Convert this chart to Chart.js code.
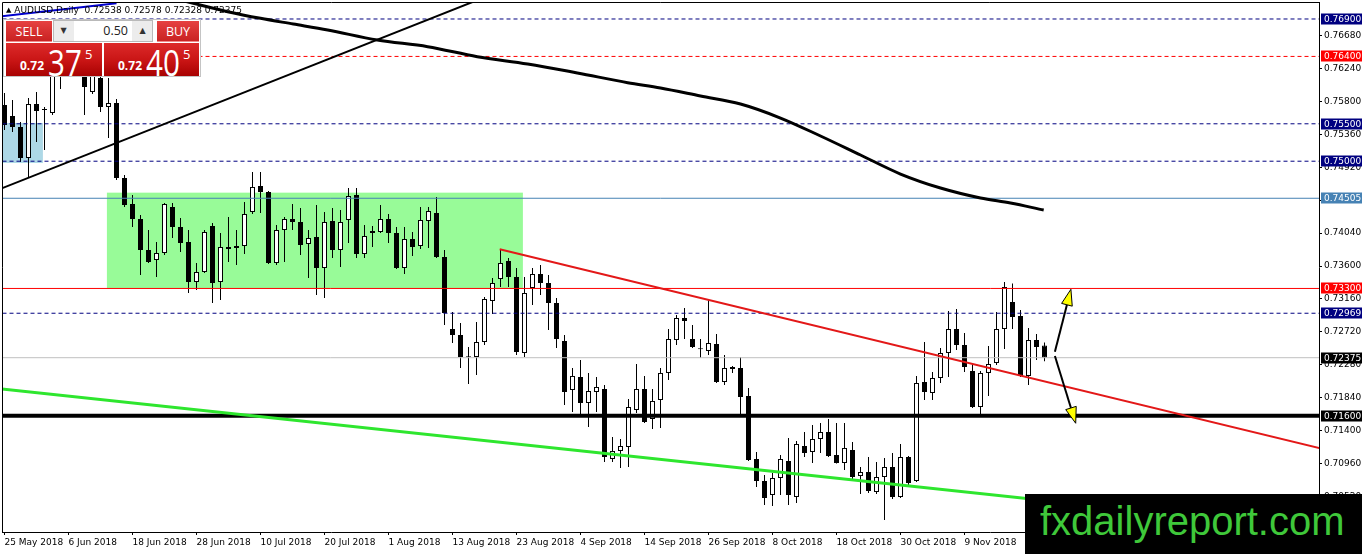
<!DOCTYPE html>
<html>
<head>
<meta charset="utf-8">
<script src="https://cdn.jsdelivr.net/npm/chart.js@4.4.1/dist/chart.umd.min.js"></script>
<style>
html, body { margin: 0; padding: 0; background: #fff; }
#wrap { position: relative; width: 1362px; height: 554px; overflow: hidden; }
#wrap canvas { position: absolute; left: 0; top: 0; }
.abs { position: absolute; }
#hdr { left: 6px; top: 5px; font: 9px 'DejaVu Sans'; line-height: 11px; color: #000; white-space: pre; }
#hdr .tri { font-size: 7px; vertical-align: 1px; }
#panel { left: 3px; top: 19px; width: 196px; height: 56px; border: 1px solid #c4c4c4; background: #fff; }
.btn { top: 21px; height: 21px; color: #fff; font: 12.5px 'Open Sans'; line-height: 21px; text-align: center;
  background: linear-gradient(#e64141, #c92222); border-bottom: 1px solid #f08a8a; box-sizing: border-box; }
#lots { left: 53px; top: 20px; width: 100px; height: 22px; background: #ececec; border: 1px solid #b9b9b9; box-sizing: border-box; }
#lots .arr { position: absolute; top: 0; width: 19px; height: 20px; font: 8px 'DejaVu Sans'; line-height: 20px; text-align: center; color: #333; }
#lots .val { position: absolute; left: 20px; top: 0; width: 58px; height: 20px; background: #fff; font: 12.5px 'Open Sans';
  line-height: 20px; text-align: right; padding-right: 4px; box-sizing: border-box; color: #222; }
.pr { top: 43px; height: 33px; color: #fff; overflow: hidden;
  background: linear-gradient(#dd2a2a 0%, #c81414 55%, #a80202 100%); }
.pr span { position: absolute; line-height: 1; white-space: nowrap; }
.pr .s { left: 14px; top: 14px; font: bold 12px 'Open Sans'; }
.pr .b { left: 42px; top: -7px; font: 37px 'Open Sans'; transform: scaleX(0.8); transform-origin: 0 0; }
.pr .u { left: 79px; top: 2px; font: 13px 'Open Sans'; }
#logo { left: 1025px; top: 494px; width: 337px; height: 60px; background: #000; }
#logo span { position: absolute; left: 15px; top: 7px; font: 40px 'Liberation Sans'; line-height: 1; color: #3fc83a; white-space: nowrap; }
</style>
</head>
<body>
<div id="wrap">
  <canvas id="chart" width="1362" height="554"></canvas>
  <div id="hdr" class="abs"><span class="tri">▲</span> AUDUSD,Daily  0.72538 0.72578 0.72328 0.72375</div>
  <div id="panel" class="abs"></div>
  <div class="abs btn" style="left:6px;width:46px;">SELL</div>
  <div id="lots" class="abs"><span class="arr" style="left:0">▼</span><span class="val">0.50</span><span class="arr" style="left:79px">▲</span></div>
  <div class="abs btn" style="left:157px;width:42px;">BUY</div>
  <div class="abs pr" style="left:6px;width:96px;"><span class="s">0.72</span><span class="b">37</span><span class="u">5</span></div>
  <div class="abs pr" style="left:104px;width:95px;"><span class="s">0.72</span><span class="b">40</span><span class="u">5</span></div>
  <div id="logo" class="abs"><span>fxdailyreport.com</span></div>
</div>
<script>
// daily candles, bar 0 = 25 May 2018
var candleOpen = [
  0.75751, 0.75604, 0.75457, 0.75043, 0.75764, 0.75684, 0.75644, 0.76219, 0.76459, 0.76513,
  0.76219, 0.75925, 0.76112, 0.75724, 0.75778, 0.74776, 0.74428, 0.74228, 0.73814, 0.73680,
  0.73774, 0.74388, 0.74121, 0.73921, 0.73386, 0.73520, 0.74135, 0.73386, 0.73854, 0.73841,
  0.73867, 0.74322, 0.74669, 0.74589, 0.73640, 0.74081, 0.74228, 0.74188, 0.73894, 0.73988,
  0.73573, 0.74201, 0.73814, 0.74215, 0.74549, 0.73760, 0.74068, 0.74054, 0.74228, 0.74041,
  0.73573, 0.73961, 0.73867, 0.74201, 0.74308, 0.73720, 0.72758, 0.72678, 0.72384, 0.72384,
  0.72585, 0.73133, 0.73426, 0.73667, 0.73453, 0.72438, 0.73306, 0.73493, 0.73373, 0.73106,
  0.72598, 0.71943, 0.72117, 0.71770, 0.71917, 0.71957, 0.71022, 0.71129, 0.71182, 0.71676,
  0.71957, 0.71556, 0.71810, 0.72171, 0.72611, 0.72905, 0.72625, 0.72491, 0.72465, 0.72558,
  0.72050, 0.72251, 0.72237, 0.71863, 0.71022, 0.70728, 0.70541, 0.70768, 0.70995, 0.70514,
  0.71195, 0.71115, 0.71289, 0.71382, 0.71075, 0.70968, 0.71142, 0.70794, 0.70848, 0.70581,
  0.70781, 0.70915, 0.70514, 0.71048, 0.70728, 0.72050, 0.71903, 0.72104, 0.72438, 0.72758,
  0.72545, 0.72197, 0.71716, 0.72171, 0.72304, 0.72758, 0.73119, 0.72932, 0.72131, 0.72611,
  0.72538
];
var candleHigh = [
  0.75911, 0.75818, 0.75524, 0.75845, 0.75925, 0.75724, 0.76419, 0.76593, 0.76686, 0.76619,
  0.76326, 0.76245, 0.76192, 0.76112, 0.75831, 0.74816, 0.74549, 0.74281, 0.74081, 0.73921,
  0.74442, 0.74442, 0.74241, 0.74081, 0.73640, 0.74081, 0.74175, 0.74041, 0.74255, 0.74081,
  0.74455, 0.74856, 0.74856, 0.74602, 0.74148, 0.74255, 0.74428, 0.74375, 0.74081, 0.74415,
  0.74322, 0.74375, 0.74348, 0.74642, 0.74642, 0.74148, 0.74135, 0.74415, 0.74295, 0.74121,
  0.74121, 0.74054, 0.74388, 0.74388, 0.74522, 0.73814, 0.72986, 0.72839, 0.72518, 0.72852,
  0.73186, 0.73440, 0.73827, 0.73707, 0.73573, 0.73453, 0.73573, 0.73613, 0.73480, 0.73173,
  0.72678, 0.72237, 0.72344, 0.72171, 0.72117, 0.72010, 0.71316, 0.71289, 0.71823, 0.72291,
  0.72131, 0.71957, 0.72237, 0.72758, 0.72945, 0.73039, 0.72812, 0.72625, 0.73146, 0.72692,
  0.72411, 0.72264, 0.72384, 0.71970, 0.71115, 0.70808, 0.70835, 0.71075, 0.71302, 0.71262,
  0.71382, 0.71476, 0.71503, 0.71556, 0.71503, 0.71503, 0.71249, 0.70915, 0.71048, 0.70982,
  0.71035, 0.71102, 0.71222, 0.71062, 0.72131, 0.72585, 0.72184, 0.72505, 0.72999, 0.73026,
  0.72705, 0.72304, 0.72197, 0.72531, 0.72986, 0.73386, 0.73366, 0.73012, 0.72772, 0.72692,
  0.72578
];
var candleLow = [
  0.75417, 0.75390, 0.74990, 0.74776, 0.75257, 0.75150, 0.75617, 0.75965, 0.76352, 0.76152,
  0.75617, 0.75898, 0.75658, 0.75310, 0.74749, 0.74388, 0.74121, 0.73480, 0.73640, 0.73453,
  0.73747, 0.73974, 0.73787, 0.73239, 0.73279, 0.73507, 0.73106, 0.73146, 0.73654, 0.73613,
  0.73760, 0.74295, 0.74308, 0.73627, 0.73613, 0.73654, 0.74081, 0.73747, 0.73440, 0.73213,
  0.73173, 0.73707, 0.73587, 0.73907, 0.73707, 0.73707, 0.73854, 0.74041, 0.73907, 0.73560,
  0.73493, 0.73734, 0.73827, 0.73841, 0.73707, 0.72812, 0.72571, 0.72237, 0.72024, 0.72144,
  0.72545, 0.72959, 0.73320, 0.73320, 0.72411, 0.72384, 0.73079, 0.73213, 0.72745, 0.72505,
  0.71743, 0.71650, 0.71583, 0.71449, 0.71650, 0.70982, 0.70982, 0.70901, 0.70915, 0.71636,
  0.71503, 0.71422, 0.71436, 0.72077, 0.72545, 0.72625, 0.72505, 0.72371, 0.72411, 0.72037,
  0.72010, 0.72171, 0.71609, 0.70995, 0.70648, 0.70407, 0.70394, 0.70541, 0.70407, 0.70434,
  0.71048, 0.70968, 0.71102, 0.71048, 0.70960, 0.70875, 0.70741, 0.70554, 0.70567, 0.70554,
  0.70207, 0.70487, 0.70500, 0.70674, 0.70714, 0.71810, 0.71810, 0.72037, 0.72117, 0.72478,
  0.72184, 0.71703, 0.71609, 0.71863, 0.72277, 0.72491, 0.72758, 0.72117, 0.72010, 0.72344,
  0.72328
];
var candleClose = [
  0.75484, 0.75457, 0.75043, 0.75764, 0.75671, 0.75690, 0.76285, 0.76459, 0.76553, 0.76245,
  0.75992, 0.76152, 0.75724, 0.75778, 0.74776, 0.74415, 0.74228, 0.73814, 0.73654, 0.73774,
  0.74428, 0.74121, 0.73907, 0.73386, 0.73520, 0.74054, 0.73373, 0.73854, 0.73827, 0.73867,
  0.74295, 0.74656, 0.74589, 0.73640, 0.74081, 0.74228, 0.74188, 0.73881, 0.73974, 0.73573,
  0.74188, 0.73814, 0.74188, 0.74535, 0.73760, 0.74001, 0.74041, 0.74228, 0.74041, 0.73573,
  0.73961, 0.73854, 0.74215, 0.74335, 0.73720, 0.72972, 0.72678, 0.72384, 0.72380, 0.72585,
  0.73159, 0.73373, 0.73640, 0.73453, 0.72451, 0.73239, 0.73493, 0.73373, 0.73106, 0.72625,
  0.71917, 0.72131, 0.71770, 0.71930, 0.71984, 0.71048, 0.71129, 0.71195, 0.71716, 0.71957,
  0.71516, 0.71797, 0.72171, 0.72625, 0.72905, 0.72865, 0.72518, 0.72487, 0.72571, 0.72050,
  0.72237, 0.72224, 0.71850, 0.71008, 0.70728, 0.70501, 0.70768, 0.71022, 0.70541, 0.71222,
  0.71102, 0.71289, 0.71382, 0.71062, 0.70968, 0.71169, 0.70781, 0.70848, 0.70594, 0.70781,
  0.70915, 0.70514, 0.71048, 0.70701, 0.72037, 0.71917, 0.72104, 0.72438, 0.72758, 0.72545,
  0.72251, 0.71716, 0.72171, 0.72291, 0.72758, 0.73320, 0.72919, 0.72131, 0.72611, 0.72518,
  0.72375
];

var tickBars = [0, 8, 16, 24, 32, 40, 48, 56, 64, 72, 80, 88, 96, 104, 112, 120];
var tickLabels = ['25 May 2018', '6 Jun 2018', '18 Jun 2018', '28 Jun 2018', '10 Jul 2018', '20 Jul 2018',
  '1 Aug 2018', '13 Aug 2018', '23 Aug 2018', '4 Sep 2018', '14 Sep 2018', '26 Sep 2018',
  '8 Oct 2018', '18 Oct 2018', '30 Oct 2018', '9 Nov 2018'];
var priceTicks = [0.7052, 0.7096, 0.7140, 0.7184, 0.7228, 0.7272, 0.7316, 0.7360,
  0.7404, 0.7448, 0.7492, 0.7536, 0.7580, 0.7624, 0.7668];

// horizontal levels and their axis tags
var levelPrices = [0.76900, 0.76400, 0.75500, 0.75000, 0.74505, 0.73300, 0.72969, 0.72375, 0.71600];

// moving average
var maBars = [19.5, 23.6, 27.9, 32.0, 36.1, 40.4, 46.6, 52.9, 59.1, 65.4, 71.6, 77.9, 82, 87, 92,
  97, 102, 107, 112, 117, 122, 125.75, 129.9];
var maPrices = [0.77221, 0.77110, 0.76998, 0.76909, 0.76833, 0.76753, 0.76619, 0.76530, 0.76396,
  0.76299, 0.76179, 0.76049, 0.75978, 0.75871, 0.75764, 0.75577, 0.75337, 0.75083, 0.74829,
  0.74642, 0.74509, 0.74442, 0.74348];

// trend lines: [bar, bar] / [price, price]
var upTrendBars = [-1, 60], upTrendPrices = [0.74610, 0.77190];
var redTrendBars = [61.9, 166], redTrendPrices = [0.73823, 0.71124];
var greenTrendBars = [-1, 166], greenTrendPrices = [0.71966, 0.70057];
var blueTrendBars = [-1, 14], blueTrendPrices = [0.76930, 0.77110];

// zones: from bar, to bar, top, bottom
var zoneFrom = [-1, 12.8], zoneTo = [4.8, 64.8];
var zoneTop = [0.75511, 0.74580], zoneBottom = [0.74976, 0.73300];

// arrows
var arrowFromBar = [131.3, 131.3], arrowFromPrice = [0.72455, 0.72398];
var arrowToBar = [133.3, 133.9], arrowToPrice = [0.73289, 0.71499];

// styles
var levelStyles = [
  { line: '#000080', dash: [4, 3], width: 1, tag: '#000080' },
  { line: '#ff0000', dash: [4, 3], width: 1, tag: '#ff0000' },
  { line: '#000080', dash: [4, 3], width: 1, tag: '#000080' },
  { line: '#000080', dash: [4, 3], width: 1, tag: '#000080' },
  { line: '#4682b4', dash: [], width: 1, tag: '#4682b4' },
  { line: '#ff0000', dash: [], width: 1, tag: '#ff0000' },
  { line: '#000080', dash: [4, 3], width: 1, tag: '#000080' },
  { line: '#c0c0c0', dash: [], width: 1, tag: '#000000' },
  { line: '#000000', dash: [], width: 4, tag: '#000000' }
];
var zoneColors = ['#add8e6', '#98fb98'];
var AXIS_FONT = { family: 'DejaVu Sans', size: 9 };

function pairs(xs, ys) {
  return xs.map(function (x, i) { return { x: x, y: ys[i] }; });
}

function lineSet(data, color, width, dash, order) {
  return {
    type: 'line', data: data, borderColor: color, borderWidth: width, borderDash: dash || [],
    pointRadius: 0, fill: false, order: order, clip: 0
  };
}

var wicks = candleHigh.map(function (h, i) { return { x: i, y: [candleLow[i], h] }; });
var bodies = candleOpen.map(function (o, i) { return { x: i, y: [o, candleClose[i]] }; });
var bodyColors = candleOpen.map(function (o, i) { return candleClose[i] > o ? '#ffffff' : '#000000'; });

var datasets = [
  { type: 'bar', data: wicks, backgroundColor: '#000', barThickness: 1, grouped: false,
    inflateAmount: 0, order: 20, clip: 0 },
  { type: 'bar', data: bodies, backgroundColor: bodyColors, borderColor: '#000', borderWidth: 1,
    borderSkipped: false, barThickness: 5, minBarLength: 1, grouped: false, inflateAmount: 0, order: 19, clip: 0 }
];
levelPrices.forEach(function (p, i) {
  var st = levelStyles[i];
  datasets.push(lineSet([{ x: -2, y: p }, { x: 170, y: p }], st.line, st.width, st.dash, 10));
});
datasets.push(lineSet(pairs(blueTrendBars, blueTrendPrices), '#0000cd', 2, null, 6));
datasets.push(lineSet(pairs(upTrendBars, upTrendPrices), '#000000', 2, null, 5));
datasets.push(lineSet(pairs(redTrendBars, redTrendPrices), '#e31818', 2, null, 5));
datasets.push(lineSet(pairs(greenTrendBars, greenTrendPrices), '#2ee62e', 3, null, 5));
var ma = lineSet(pairs(maBars, maPrices), '#000000', 3, null, 4);
ma.cubicInterpolationMode = 'monotone';
datasets.push(ma);

function drawArrow(ctx, x0, y0, x1, y1) {
  var ang = Math.atan2(y1 - y0, x1 - x0), len = 16, half = 5.5;
  var c = Math.cos(ang), s = Math.sin(ang);
  var bx = x1 - c * len, by = y1 - s * len;
  ctx.strokeStyle = '#000';
  ctx.lineWidth = 2;
  ctx.beginPath();
  ctx.moveTo(x0, y0);
  ctx.lineTo(bx, by);
  ctx.stroke();
  ctx.beginPath();
  ctx.moveTo(x1, y1);
  ctx.lineTo(bx + s * half, by - c * half);
  ctx.lineTo(bx - s * half, by + c * half);
  ctx.closePath();
  ctx.fillStyle = '#ffff00';
  ctx.fill();
  ctx.lineWidth = 1;
  ctx.stroke();
}

var overlays = {
  id: 'overlays',
  beforeDatasetsDraw: function (chart) {
    var ctx = chart.ctx, a = chart.chartArea, x = chart.scales.x, y = chart.scales.y;
    ctx.save();
    ctx.beginPath();
    ctx.rect(a.left, a.top, a.right - a.left, a.bottom - a.top);
    ctx.clip();
    zoneFrom.forEach(function (f, i) {
      var x0 = x.getPixelForValue(f), x1 = x.getPixelForValue(zoneTo[i]);
      var y0 = y.getPixelForValue(zoneTop[i]), y1 = y.getPixelForValue(zoneBottom[i]);
      ctx.fillStyle = zoneColors[i];
      ctx.fillRect(x0, y0, x1 - x0, y1 - y0);
    });
    ctx.restore();
  },
  afterDatasetsDraw: function (chart) {
    var ctx = chart.ctx, x = chart.scales.x, y = chart.scales.y;
    ctx.save();
    arrowFromBar.forEach(function (b, i) {
      drawArrow(ctx, x.getPixelForValue(b), y.getPixelForValue(arrowFromPrice[i]),
        x.getPixelForValue(arrowToBar[i]), y.getPixelForValue(arrowToPrice[i]));
    });
    ctx.restore();
  },
  afterDraw: function (chart) {
    var ctx = chart.ctx, a = chart.chartArea, y = chart.scales.y;
    ctx.save();
    // frame on the left and top, the axes give the other two sides
    ctx.strokeStyle = '#000';
    ctx.lineWidth = 1;
    ctx.beginPath();
    ctx.moveTo(a.left + 0.5, a.bottom);
    ctx.lineTo(a.left + 0.5, a.top + 0.5);
    ctx.lineTo(a.right, a.top + 0.5);
    ctx.stroke();
    ctx.font = "9px 'DejaVu Sans'";
    ctx.textBaseline = 'middle';
    levelPrices.forEach(function (p, i) {
      var py = y.getPixelForValue(p);
      ctx.fillStyle = levelStyles[i].tag;
      ctx.fillRect(a.right + 2, Math.round(py) - 5.5, 41, 11);
      ctx.fillStyle = '#fff';
      ctx.fillText(p.toFixed(5), a.right + 5, py + 0.5);
    });
    ctx.restore();
  }
};

new Chart(document.getElementById('chart'), {
  type: 'bar',
  data: { datasets: datasets },
  plugins: [overlays],
  options: {
    responsive: false,
    devicePixelRatio: 1,
    animation: false,
    events: [],
    layout: { padding: { left: 2, top: 2, right: 0, bottom: 0 } },
    plugins: { legend: { display: false }, tooltip: { enabled: false } },
    scales: {
      x: {
        type: 'linear', min: -0.3125, max: 164.3125, offset: false,
        afterBuildTicks: function (s) { s.ticks = tickBars.map(function (v) { return { value: v }; }); },
        afterFit: function (s) { s.height = 22; s.paddingLeft = 0; s.paddingRight = 0; },
        ticks: {
          autoSkip: false, maxRotation: 0, align: 'start', padding: 2, color: '#000', font: AXIS_FONT,
          callback: function (v) { var k = tickBars.indexOf(v); return k < 0 ? '' : tickLabels[k]; }
        },
        grid: { drawOnChartArea: false, offset: false, tickLength: 3, color: '#000' },
        border: { color: '#000' }
      },
      y: {
        type: 'linear', position: 'right', min: 0.7004629, max: 0.7712712,
        afterBuildTicks: function (s) { s.ticks = priceTicks.map(function (v) { return { value: v }; }); },
        afterFit: function (s) { s.width = 43; s.paddingTop = 0; s.paddingBottom = 0; },
        ticks: {
          padding: 2, color: '#000', font: AXIS_FONT,
          callback: function (v) { return v.toFixed(5); }
        },
        grid: { drawOnChartArea: false, tickLength: 3, color: '#000' },
        border: { color: '#000' }
      }
    }
  }
});
</script>
</body>
</html>
